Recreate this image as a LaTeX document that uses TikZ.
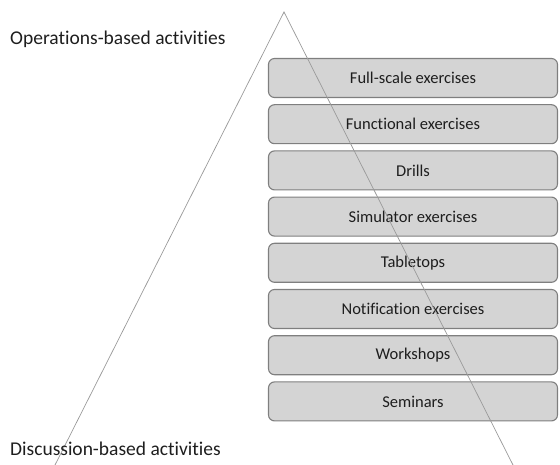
\documentclass[tikz,border=0pt]{standalone}
\usepackage{fontspec}
\setmainfont[Ligatures=NoCommon]{Carlito}
\definecolor{boxfill}{HTML}{D4D4D4}
\definecolor{boxline}{HTML}{7F7F7F}
\definecolor{legline}{HTML}{999999}
\definecolor{txt}{HTML}{1E1E1E}
\tikzset{
  level/.style={draw=boxline, line width=1.1pt, fill=boxfill, rounded corners=6pt,
    minimum width=289pt, minimum height=39pt, inner sep=0pt, text=txt,
    font=\fontsize{16.5}{20}\selectfont},
  side/.style={anchor=west, text=txt, inner sep=0pt, font=\fontsize{19.5}{23}\selectfont},
}
\begin{document}
\begin{tikzpicture}[x=1pt, y=-1pt]
\useasboundingbox (0,0) rectangle (560,465);
% exercise levels, top to bottom
\foreach \name/\lbl [count=\i from 0] in {full/Full-scale exercises, func/Functional exercises,
    drill/Drills, sim/Simulator exercises, table/Tabletops, notif/Notification exercises,
    work/Workshops, sem/Seminars}
  \node[level] (\name) at (413, 78+46.2*\i) {\lbl};
% the two sides of the pyramid
\coordinate (apex) at (284,12);
\coordinate (lfoot) at (55,465);
\coordinate (rfoot) at (513,465);
\draw[legline, line width=0.7pt] (lfoot) -- (apex) -- (rfoot);
\node[side] (ops) at (10,39) {Operations-based activities};
\node[side] (disc) at (10,449) {Discussion-based activities};
\end{tikzpicture}
\end{document}
